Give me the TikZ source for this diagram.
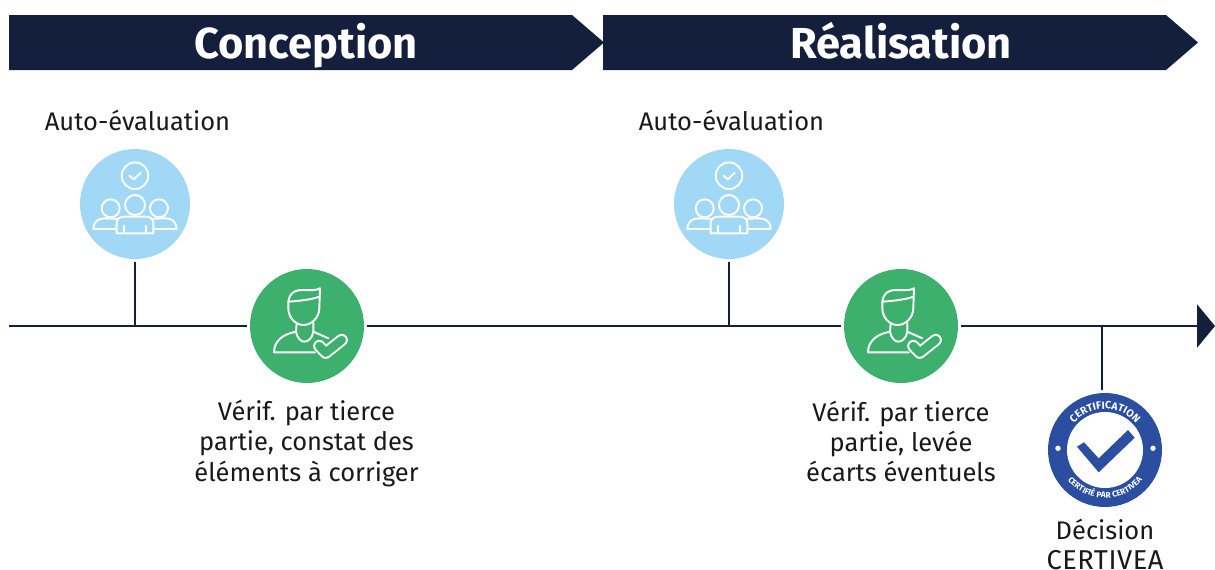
\documentclass[tikz,border=0pt]{standalone}
\usepackage{fontspec}
\setmainfont{Fira Sans}
\usepackage{xcolor}
\usetikzlibrary{calc,arrows.meta,decorations.text}
\definecolor{navy}{HTML}{131F3C}
\definecolor{skyblue}{HTML}{A1D8F5}
\definecolor{leaf}{HTML}{3EB06D}
\definecolor{sealblue}{HTML}{2B4EA0}
\def\px{0.02cm}
\tikzset{
	banner/.style={anchor=base,text=white,font=\fontsize{24.7}{28}\selectfont\bfseries},
	axisline/.style={draw=navy,line width=1.6pt},
	bluedisc/.style={circle,fill=skyblue,inner sep=0,minimum size=110*\px,outer sep=3*\px},
	greendisc/.style={circle,fill=leaf,inner sep=0,minimum size=114*\px,outer sep=3*\px},
	sealdisc/.style={circle,fill=sealblue,inner sep=0,minimum size=114*\px,outer sep=3*\px},
	caption/.style={align=center,text=black!90,font=\fontsize{14.5}{17.3}\selectfont},
	iconline/.style={draw=white,line width=1.1pt,line join=round,line cap=round},
	team/.pic={
		\draw[iconline] (0,28.3) circle[radius=13.3]; % check circle
		\draw[iconline] (-5.7,28.3) -- (-1,24.7) -- (5.7,31.3); % check mark
		\draw[iconline] (-24.3,-4.3) circle[radius=9]; % left head
		\draw[iconline] (24,-4.3) circle[radius=9]; % right head
		\draw[iconline] (0,-1) circle[radius=10]; % middle head
		\draw[iconline] (-18.3,-29.3) -- (-18.3,-19) .. controls (-18.3,-15) and (-15,-12.7) .. (-11,-12.7)
			-- (11,-12.7) .. controls (15,-12.7) and (18.3,-15) .. (18.3,-19) -- (18.3,-29.3) -- cycle; % middle body
		\draw[iconline] (-10.7,-21.7) -- (-10.7,-29.3) (11,-21.7) -- (11,-29.3);
		\draw[iconline] (-18.3,-25) -- (-41.7,-25) .. controls (-41.7,-18) and (-37,-14.3) .. (-30,-14.3) -- (-18.3,-14.8); % left body
		\draw[iconline] (18.3,-25) -- (41.7,-25) .. controls (41.7,-18) and (37,-14.3) .. (30,-14.3) -- (18.3,-14.8); % right body
	},
	person/.pic={
		\draw[iconline] (-18.7,22) .. controls (-18.7,31) and (-14,36) .. (-5,36)
			.. controls (2,36) and (9,35) .. (13,37.7) -- (12.3,17.7)
			.. controls (12.3,9) and (5,1) .. (-3.5,1)
			.. controls (-12,1) and (-18.7,9) .. (-18.7,17.7) -- cycle; % head
		\draw[iconline] (-18.7,24.3) .. controls (-10,25) and (3,26) .. (12.5,29.3); % hair line
		\draw[iconline] (-10.3,3) -- (-11,-5.7) .. controls (-10,-12) and (-6,-15.7) .. (-2.7,-15.7)
			.. controls (1,-15.7) and (5.5,-12) .. (6.3,-5.7) -- (6.3,3); % neck
		\draw[iconline] (-11,-5.7) .. controls (-24,-8) and (-33,-15) .. (-33,-26.3) -- (8,-26.3); % shoulders
		\draw[iconline] (6.3,-5.7) -- (21.3,-12.3);
		\draw[white,line width=7pt,line join=round,line cap=round] (12.3,-20) -- (18.7,-26.7) -- (34.7,-14); % check
		\draw[leaf,line width=4.8pt,line join=round,line cap=round] (12.3,-20) -- (18.7,-26.7) -- (34.7,-14);
	},
}
\begin{document}
\begin{tikzpicture}[x=\px,y=\px]
	\useasboundingbox (0,0) rectangle (1215,-569);
	\fill[navy] (9,-15) -- ++(563,0) -- ++(32,-27.5) -- ++(-32,-27.5) -- ++(-563,0) -- cycle;
	\fill[navy] (603,-15) -- ++(563,0) -- ++(32,-27.5) -- ++(-32,-27.5) -- ++(-563,0) -- cycle;
	\node[banner] (conception) at (306,-58) {Conception};
	\node[banner] (realisation) at (901,-58) {Réalisation};
	\coordinate (axisstart) at (9,-326);
	\coordinate (axisend) at (1215,-326);
	\coordinate (tick) at (1102,-326);
	\node[greendisc] (verif1) at (307,-326) {};
	\node[greendisc] (verif2) at (901,-326) {};
	\node[sealdisc] (seal) at (1105,-450) {};
	\draw[axisline] (axisstart) -- (verif1);
	\draw[axisline] (verif1) -- (verif2);
	\draw[axisline,-{Triangle[length=18*\px,width=43*\px]}] (verif2) -- (axisend); % time axis
	\foreach \n/\x in {1/135,2/729}{
		\node[caption] (auto\n) at (\x+2.5,-120.5) {Auto-évaluation};
		\node[bluedisc] (eval\n) at (\x,-204) {};
		\pic at (eval\n) {team};
		\draw[axisline] (eval\n) -- (eval\n |- axisstart);
	}
	\pic at (verif1) {person};
	\pic at (verif2) {person};
	\draw[axisline] (tick) -- (tick |- seal.north); % decision mark
	\fill[white] (seal) circle[radius=38]; % seal centre
	\fill[sealblue] ($(seal)+(-28,3.3)$) -- ($(seal)+(-21,7.7)$) -- ($(seal)+(-6.3,-8.3)$) -- ($(seal)+(23,20)$)
		-- ($(seal)+(29.7,12.3)$) -- ($(seal)+(-6.3,-22.3)$) -- cycle; % seal check
	\fill[white] ($(seal)+(-47,1.7)$) circle[radius=2.7] ($(seal)+(48,1.7)$) circle[radius=2.7];
	\path[decorate,decoration={text along path,text align=center,
		text={|\fontsize{6}{7}\selectfont\bfseries\color{white}|CERTIFICATION}}]
		($(seal)+(160:41)$) arc[start angle=160,end angle=20,radius=41];
	\path[decorate,decoration={text along path,text align=center,
		text={|\fontsize{4.7}{5}\selectfont\bfseries\color{white}|CERTIFIÉ PAR CERTIVEA}}]
		($(seal)+(200:48)$) arc[start angle=200,end angle=340,radius=48];
	\node[caption] (verif1text) at (306.5,-443.5) {Vérif. par tierce\\partie, constat des\\éléments à corriger};
	\node[caption] (verif2text) at (901,-441.5) {Vérif. par tierce\\partie, levée\\écarts éventuels};
	\node[caption] (decision) at (1105,-544.5) {Décision\\{\fontsize{15.5}{17.3}\selectfont\addfontfeature{LetterSpace=2}CERTIVEA}};
\end{tikzpicture}
\end{document}
